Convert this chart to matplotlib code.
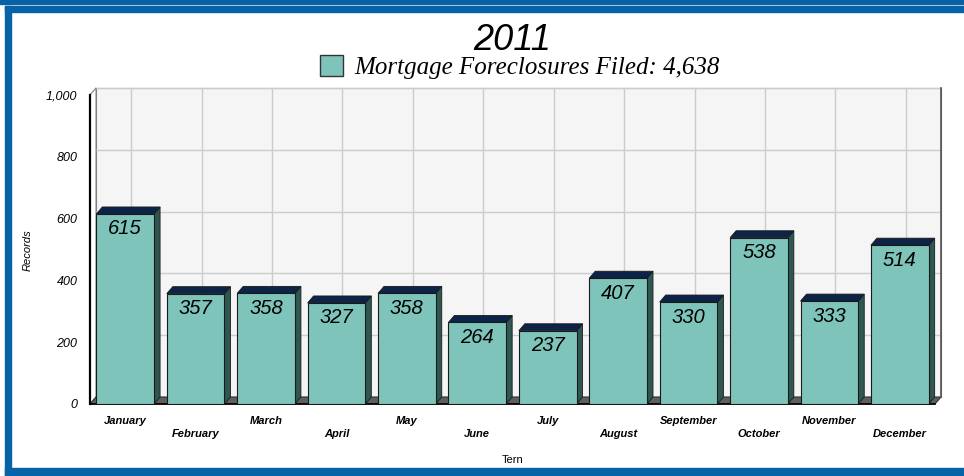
import matplotlib.pyplot as plt
from matplotlib.patches import Rectangle, Polygon, Patch

# data
months = ["January", "February", "March", "April", "May", "June",
          "July", "August", "September", "October", "November", "December"]
counts = [615, 357, 358, 327, 358, 264, 237, 407, 330, 538, 333, 514]
total = 4638
y_ticks = [0, 200, 400, 600, 800, 1000]
year = "2011"

plt.rcParams['font.family'] = ['Liberation Sans', 'DejaVu Sans']

W, H = 964, 476
fig = plt.figure(figsize=(W / 100, H / 100), dpi=100)

# frame around the chart
blue = '#0862A6'
fig.patches.append(Rectangle((0, (H - 4) / H), 1, 4 / H, transform=fig.transFigure, color=blue))
fig.patches.append(Rectangle((5 / W, (H - 12) / H), 1, 6 / H, transform=fig.transFigure, color=blue))
fig.patches.append(Rectangle((5 / W, 0), 6 / W, (H - 6) / H, transform=fig.transFigure, color=blue))
fig.patches.append(Rectangle((5 / W, 0), 1, 8 / H, transform=fig.transFigure, color=blue))

ax = fig.add_axes([90 / W, (H - 404) / H, 845 / W, 309 / H])
ax.set_xlim(-0.5, 11.5)
ax.set_ylim(0, 1000)
ax.set_frame_on(False)
ax.patch.set_visible(False)

# depth of the 3d look, in data units
dx = 6 / (845 / 12)
dy = 7 / (309 / 1000)
n = len(months)
x_lo, x_hi = -0.5, n - 0.5

# back wall and grid
ax.add_patch(Rectangle((x_lo + dx, dy), n, 1000, fc='#F5F5F5', ec='#777777',
                       lw=0.8, zorder=0, clip_on=False))
for t in y_ticks[1:]:
    ax.plot([x_lo + dx, x_hi + dx], [t + dy] * 2, color='#CCCCCC', lw=1, zorder=0.5, clip_on=False)
    ax.plot([x_lo, x_lo + dx], [t, t + dy], color='#CCCCCC', lw=0.8, zorder=0.5, clip_on=False)
for i in range(n):
    ax.plot([i + dx] * 2, [dy, 1000 + dy], color='#CCCCCC', lw=1, zorder=0.5, clip_on=False)

# left wall
ax.add_patch(Polygon([(x_lo, 0), (x_lo + dx, dy), (x_lo + dx, 1000 + dy), (x_lo, 1000)],
                     fc='white', ec='#888888', lw=0.8, zorder=1, clip_on=False))
ax.plot([x_lo, x_lo], [0, 1000], color='black', lw=1.6, zorder=1.2, clip_on=False)

# floor
ax.add_patch(Polygon([(x_lo, 0), (x_hi, 0), (x_hi + dx, dy), (x_lo + dx, dy)],
                     fc='#5E5E5E', ec='#333333', lw=0.8, zorder=1, clip_on=False))
ax.plot([x_lo, x_hi], [0, 0], color='black', lw=1.2, zorder=1.2, clip_on=False)
ax.plot([x_hi + dx, x_hi + dx], [dy, 1000 + dy], color='#555555', lw=1.2, zorder=1.2, clip_on=False)

# bars
w = 0.82
for i, v in enumerate(counts):
    x0, x1 = i - w / 2, i + w / 2
    ax.add_patch(Polygon([(x1, 0), (x1 + dx, dy), (x1 + dx, v + dy), (x1, v)],
                         fc='#2F5752', ec='#1A1A1A', lw=0.6, zorder=3, clip_on=False))
    ax.add_patch(Polygon([(x0, v), (x1, v), (x1 + dx, v + dy), (x0 + dx, v + dy)],
                         fc='#0B2447', ec='#1A1A1A', lw=0.6, zorder=3, clip_on=False))
    ax.add_patch(Rectangle((x0, 0), w, v, fc='#7FC4BA', ec='#1A1A1A', lw=0.8, zorder=3.5))
    ax.annotate(str(v), (i, v), xytext=(0, -15), textcoords='offset pixels',
                ha='center', va='center', fontsize=14.5, style='italic', zorder=5)

# axis labels
ax.set_yticks(y_ticks)
ax.set_yticklabels([f"{t:,}" for t in y_ticks], fontsize=9, style='italic')
ax.set_xticks([])
ax.tick_params(axis='y', length=0, pad=9)
for i, m in enumerate(months):
    off = -17 if i % 2 == 0 else -30
    ax.annotate(m, (i, 0), xytext=(0, off), textcoords='offset pixels', ha='center',
                va='center', fontsize=8, style='italic', weight='bold', annotation_clip=False)

fig.text(28 / W, 1 - 250 / H, "Records", rotation=90, ha='center', va='center',
         fontsize=8, style='italic')
fig.text(513 / W, 1 - 460 / H, "Tern", ha='center', va='center', fontsize=8)
fig.text(512 / W, 1 - 40 / H, year, ha='center', va='center', fontsize=26, style='italic')

fig.legend(handles=[Patch(fc='#7FC4BA', ec='#333333', lw=1)],
           labels=[f"Mortgage Foreclosures Filed: {total:,}"],
           loc='center', bbox_to_anchor=(520 / W, 1 - 67 / H), frameon=False,
           handlelength=0.9, handleheight=0.9, handletextpad=0.45, borderpad=0,
           prop={'family': 'Liberation Serif', 'style': 'italic', 'size': 18})

fig.savefig("out.png", dpi=100)
